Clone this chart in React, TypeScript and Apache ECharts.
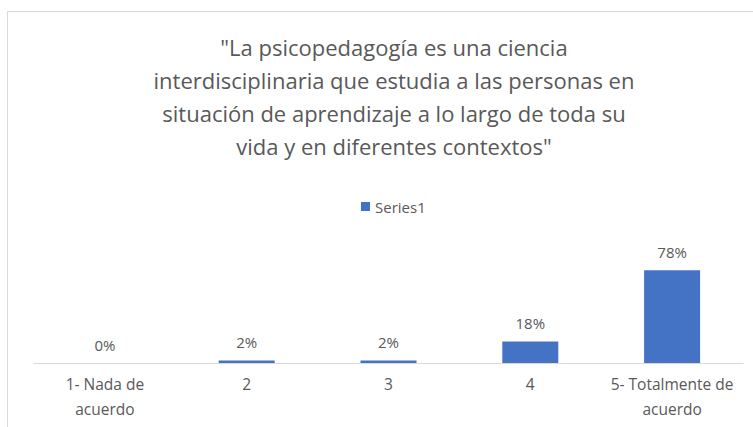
import React, { useEffect, useRef } from "react";
import * as echarts from "echarts";

const categories = ["1- Nada de\nacuerdo", "2", "3", "4", "5- Totalmente de\nacuerdo"];
const values = [0, 2, 2, 18, 78];
const seriesName = "Series1";
const titleText =
  '"La psicopedagogía es una ciencia\ninterdisciplinaria que estudia a las personas en\nsituación de aprendizaje a lo largo de toda su\nvida y en diferentes contextos"';

export default function App() {
  const ref = useRef<HTMLDivElement>(null);
  useEffect(() => {
    document.body.style.margin = "0";
    const chart = echarts.init(ref.current!, null, { renderer: "svg" });
    chart.setOption({
      animation: false,
      backgroundColor: "#ffffff",
      textStyle: { fontFamily: "Open Sans" },
      graphic: [
        {
          type: "rect",
          shape: { x: 7.5, y: 11.5, width: 900, height: 600 },
          style: { fill: "none", stroke: "#d9d9d9", lineWidth: 1 },
          silent: true,
        },
      ],
      title: {
        text: titleText,
        left: 389,
        textAlign: "center",
        top: 25,
        textStyle: {
          fontFamily: "Open Sans",
          fontSize: 22,
          fontWeight: "normal",
          color: "#595959",
          lineHeight: 33,
        },
      },
      legend: {
        data: [seriesName],
        top: 194,
        left: 356,
        itemWidth: 9,
        itemHeight: 9,
        itemGap: 6,
        icon: "rect",
        textStyle: { fontSize: 15, color: "#595959", fontFamily: "Open Sans" },
      },
      grid: { left: 34, right: 10, top: 244, bottom: 64 },
      xAxis: {
        type: "category",
        data: categories,
        axisLine: { lineStyle: { color: "#d9d9d9", width: 1 } },
        axisTick: { show: false },
        axisLabel: {
          color: "#595959",
          fontSize: 15.5,
          lineHeight: 25,
          margin: 8,
          interval: 0,
          fontFamily: "Open Sans",
        },
      },
      yAxis: {
        type: "value",
        min: 0,
        max: 100,
        show: false,
        splitLine: { show: false },
      },
      series: [
        {
          name: seriesName,
          type: "bar",
          data: values,
          barWidth: 56,
          itemStyle: { color: "#4472c4" },
          label: {
            show: true,
            position: "top",
            distance: 11,
            formatter: "{c}%",
            color: "#595959",
            fontSize: 15,
            fontFamily: "Open Sans",
          },
        },
      ],
    });
    return () => chart.dispose();
  }, []);
  return <div ref={ref} style={{ width: 753, height: 427 }} />;
}
